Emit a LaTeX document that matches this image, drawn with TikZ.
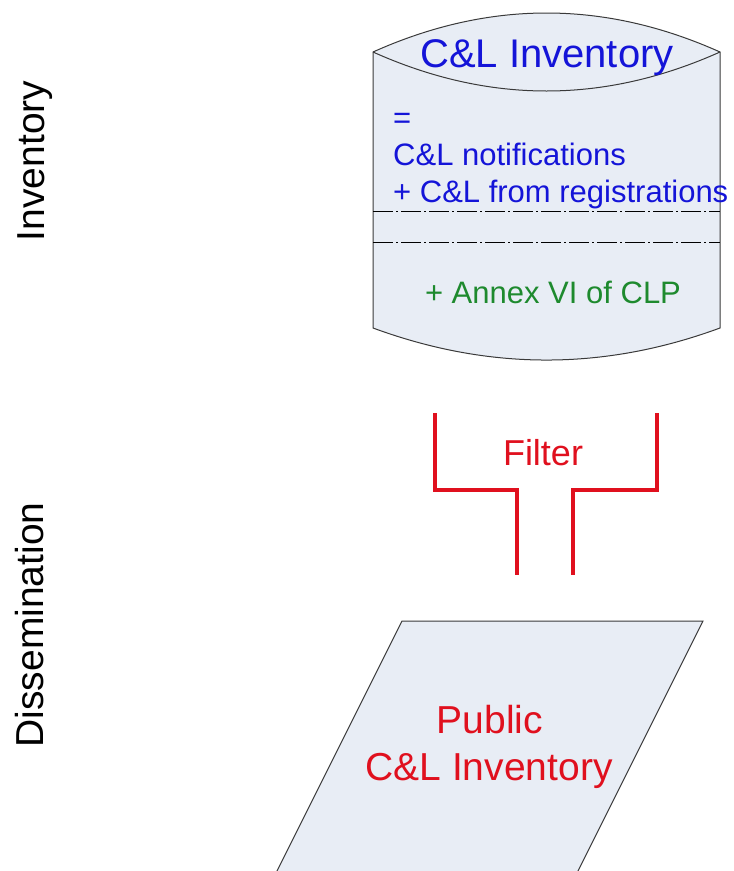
\documentclass[tikz,border=0pt]{standalone}
\usepackage{fontspec}
\setmainfont{Liberation Sans}
\definecolor{fillblue}{HTML}{E8EDF5}
\definecolor{edgegray}{HTML}{3A3A3A}
\definecolor{txtblue}{HTML}{1414D8}
\definecolor{txtred}{HTML}{E0101E}
\definecolor{txtgreen}{HTML}{1E8A2E}
\tikzset{
  lbl/.style={inner sep=0pt, anchor=base},
  lblw/.style={inner sep=0pt, anchor=base west},
  shapeline/.style={draw=edgegray, line width=1pt},
  dashdot/.style={draw=black, line width=1pt, dash pattern=on 20pt off 3pt on 2pt off 3pt},
  filterline/.style={draw=txtred, line width=4pt},
}
\begin{document}
\begin{tikzpicture}[x=1pt,y=-1pt]
\useasboundingbox (0,0) rectangle (734,871);
\clip (0,0) rectangle (734,871);
% cylinder
\path[shapeline, fill=fillblue] (373,52) .. controls (489,0) and (604,0) .. (720,52)
  -- (720,328) .. controls (604,370.7) and (489,370.7) .. (373,328) -- cycle;
\draw[shapeline] (373,52) .. controls (489,104) and (604,104) .. (720,52);
\draw[dashdot] (373,211) -- (720,211);
\draw[dashdot] (373,242) -- (720,242);
% texts in cylinder
\node[lbl, font=\fontsize{40}{48}\selectfont, text=txtblue] (title) at (547,67) {C\&L Inventory};
\node[lblw, font=\fontsize{31}{37}\selectfont, text=txtblue] (eq) at (393,128) {=};
\node[lblw, font=\fontsize{31}{37}\selectfont, text=txtblue] (notif) at (393,165) {C\&L notifications};
\node[lblw, font=\fontsize{31}{37}\selectfont, text=txtblue] (reg) at (393,202) {+ C\&L from registrations};
\node[lbl, font=\fontsize{31}{37}\selectfont, text=txtgreen] (annex) at (553,303) {+ Annex VI of CLP};
% filter
\draw[filterline] (435,413) -- (435,490) -- (517,490) -- (517,575);
\draw[filterline] (657,413) -- (657,490) -- (573,490) -- (573,575);
\node[lbl, font=\fontsize{36}{43}\selectfont, text=txtred] (filter) at (543,465) {Filter};
% parallelogram
\path[draw=edgegray, line width=1pt, fill=fillblue] (402,621) -- (703,621) -- (563.5,900) -- (262.5,900) -- cycle;
\node[lbl, font=\fontsize{39}{47}\selectfont, text=txtred] (pub1) at (490,733) {Public};
\node[lbl, font=\fontsize{39}{47}\selectfont, text=txtred] (pub2) at (489,780) {C\&L Inventory};
% side labels
\node[lbl, rotate=90, font=\fontsize{39}{47}\selectfont, text=black] (inv) at (44,161) {Inventory};
\node[lbl, rotate=90, font=\fontsize{39}{47}\selectfont, text=black] (diss) at (43,625) {Dissemination};
\end{tikzpicture}
\end{document}
